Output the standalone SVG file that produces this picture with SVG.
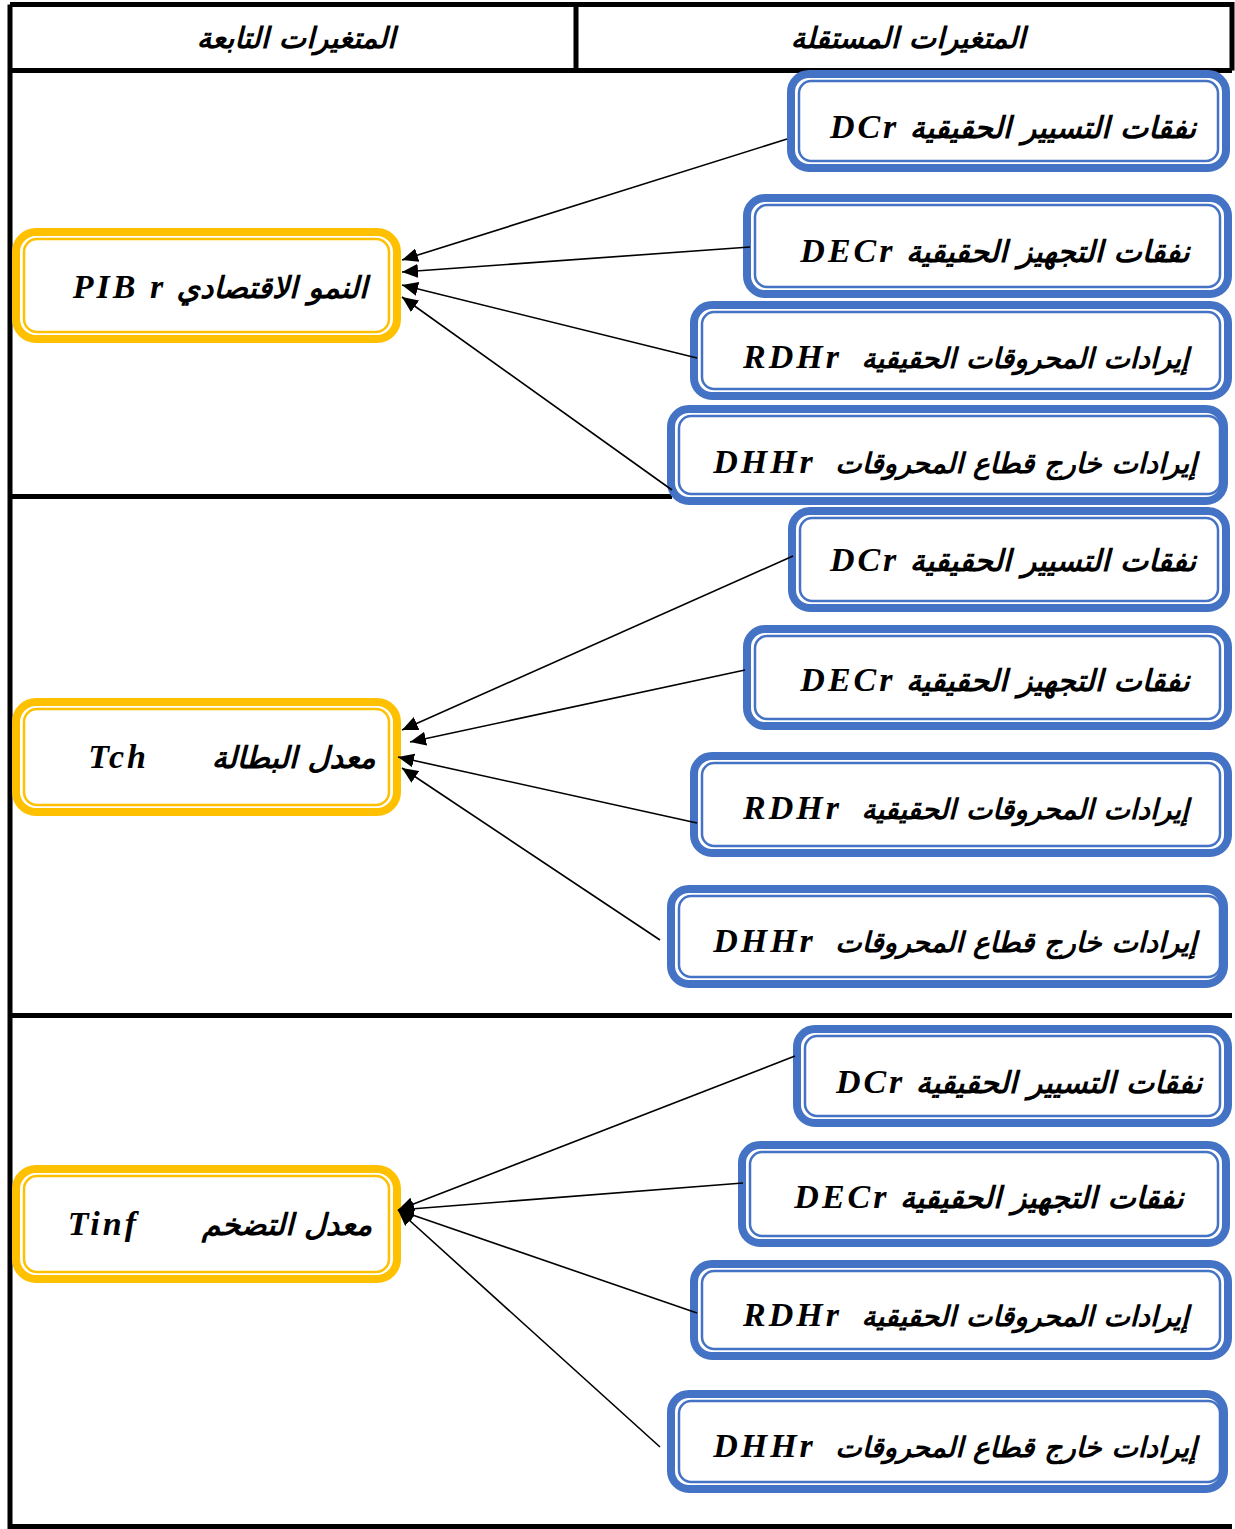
<svg xmlns="http://www.w3.org/2000/svg" width="1235" height="1529" viewBox="0 0 1235 1529">
<style>
.frame{fill:none;stroke:#000;stroke-width:5}
.bo{fill:#fff;stroke:#4472C4;stroke-width:8}
.bi{fill:none;stroke:#4472C4;stroke-width:2.5}
.yo{fill:#fff;stroke:#FFC000;stroke-width:8}
.yi{fill:none;stroke:#FFC000;stroke-width:2.5}
.t{font-family:"DejaVu Sans","Liberation Serif",sans-serif;font-weight:bold;font-style:italic;font-size:30px;fill:#000;direction:rtl;unicode-bidi:embed;text-anchor:middle;white-space:pre}
.s{font-size:28px}
.lat{font-family:"Liberation Serif",serif;font-size:34px;letter-spacing:3px}
.h{font-family:"DejaVu Sans",sans-serif;font-weight:bold;font-style:italic;font-size:29px;direction:rtl;text-anchor:middle}
.c{stroke:#000;stroke-width:1.6;fill:none;marker-end:url(#ah)}
</style>
<defs>
<marker id="ah" markerUnits="userSpaceOnUse" markerWidth="18" markerHeight="14" refX="16" refY="7" orient="auto">
<path d="M0,0 L16,7 L0,14 Z" fill="#000"/>
</marker>
</defs>
<rect width="1235" height="1529" fill="#fff"/>
<g id="frame">
<path class="frame" d="M10,4.5 H1232 V70.5 M10,4.5 V1526.5 H1232 M10,70.5 H1232 M576,4.5 V70.5 M10,496.5 H672 M10,1015.5 H1232"/>
<text class="h" x="296" y="48">المتغيرات التابعة</text>
<text class="h" x="908" y="48">المتغيرات المستقلة</text>
</g>

<g id="s1b1"><rect class="bo" x="791" y="74" width="435" height="94" rx="18"/><rect class="bi" x="799" y="81" width="419" height="80" rx="12"/>
<text class="t" x="1013" y="138">نفقات التسيير الحقيقية <tspan class="lat">DCr</tspan></text></g>
<g id="s1b2"><rect class="bo" x="747" y="198" width="481" height="96" rx="18"/><rect class="bi" x="755" y="205" width="465" height="82" rx="12"/>
<text class="t" x="995" y="262">نفقات التجهيز الحقيقية <tspan class="lat">DECr</tspan></text></g>
<g id="s1b3"><rect class="bo" x="694" y="305" width="534" height="91" rx="18"/><rect class="bi" x="702" y="312" width="518" height="77" rx="12"/>
<text class="t s" x="966" y="368">إيرادات المحروقات الحقيقية  <tspan class="lat">RDHr</tspan></text></g>
<g id="s1b4"><rect class="bo" x="671" y="409" width="553" height="92" rx="18"/><rect class="bi" x="679" y="416" width="541" height="78" rx="12"/>
<text class="t s" x="955" y="473">إيرادات خارج قطاع المحروقات  <tspan class="lat">DHHr</tspan></text></g>

<g id="s2b1"><rect class="bo" x="792" y="511" width="434" height="97" rx="18"/><rect class="bi" x="800" y="518" width="418" height="83" rx="12"/>
<text class="t" x="1013" y="571">نفقات التسيير الحقيقية <tspan class="lat">DCr</tspan></text></g>
<g id="s2b2"><rect class="bo" x="747" y="629" width="481" height="97" rx="18"/><rect class="bi" x="755" y="636" width="465" height="83" rx="12"/>
<text class="t" x="995" y="691">نفقات التجهيز الحقيقية <tspan class="lat">DECr</tspan></text></g>
<g id="s2b3"><rect class="bo" x="694" y="756" width="534" height="97" rx="18"/><rect class="bi" x="702" y="763" width="518" height="83" rx="12"/>
<text class="t s" x="966" y="819">إيرادات المحروقات الحقيقية  <tspan class="lat">RDHr</tspan></text></g>
<g id="s2b4"><rect class="bo" x="671" y="889" width="553" height="95" rx="18"/><rect class="bi" x="679" y="896" width="541" height="81" rx="12"/>
<text class="t s" x="955" y="952">إيرادات خارج قطاع المحروقات  <tspan class="lat">DHHr</tspan></text></g>

<g id="s3b1"><rect class="bo" x="797" y="1029" width="431" height="94" rx="18"/><rect class="bi" x="805" y="1036" width="415" height="80" rx="12"/>
<text class="t" x="1019" y="1093">نفقات التسيير الحقيقية <tspan class="lat">DCr</tspan></text></g>
<g id="s3b2"><rect class="bo" x="742" y="1145" width="484" height="98" rx="18"/><rect class="bi" x="750" y="1152" width="468" height="84" rx="12"/>
<text class="t" x="989" y="1208">نفقات التجهيز الحقيقية <tspan class="lat">DECr</tspan></text></g>
<g id="s3b3"><rect class="bo" x="694" y="1264" width="534" height="92" rx="18"/><rect class="bi" x="702" y="1271" width="518" height="78" rx="12"/>
<text class="t s" x="966" y="1326">إيرادات المحروقات الحقيقية  <tspan class="lat">RDHr</tspan></text></g>
<g id="s3b4"><rect class="bo" x="671" y="1394" width="553" height="95" rx="18"/><rect class="bi" x="679" y="1401" width="541" height="81" rx="12"/>
<text class="t s" x="955" y="1457">إيرادات خارج قطاع المحروقات  <tspan class="lat">DHHr</tspan></text></g>

<g id="y1"><rect class="yo" x="16" y="232" width="381" height="107" rx="20"/><rect class="yi" x="24" y="239" width="365" height="93" rx="13"/>
<text class="t" x="220" y="298">النمو الاقتصادي <tspan class="lat">PIB r</tspan></text></g>
<g id="y2"><rect class="yo" x="16" y="702" width="381" height="110" rx="20"/><rect class="yi" x="24" y="709" width="365" height="96" rx="13"/>
<text class="t" x="232" y="768">معدل البطالة      <tspan class="lat">Tch</tspan></text></g>
<g id="y3"><rect class="yo" x="16" y="1169" width="381" height="110" rx="20"/><rect class="yi" x="24" y="1176" width="365" height="96" rx="13"/>
<text class="t" x="220" y="1235">معدل التضخم      <tspan class="lat">Tinf</tspan></text></g>

<g id="connectors">
<line class="c" x1="787" y1="139" x2="402" y2="260"/>
<line class="c" x1="750" y1="247" x2="402" y2="272"/>
<line class="c" x1="697" y1="358" x2="402" y2="285"/>
<line class="c" x1="672" y1="490" x2="402" y2="297"/>
<line class="c" x1="793" y1="556" x2="402" y2="730"/>
<line class="c" x1="745" y1="670" x2="410" y2="742"/>
<line class="c" x1="697" y1="823" x2="398" y2="757"/>
<line class="c" x1="660" y1="940" x2="402" y2="768"/>
<line class="c" x1="795" y1="1056" x2="398" y2="1210"/>
<line class="c" x1="743" y1="1183" x2="398" y2="1210"/>
<line class="c" x1="697" y1="1313" x2="398" y2="1210"/>
<line class="c" x1="660" y1="1447" x2="398" y2="1210"/>
</g>
</svg>
